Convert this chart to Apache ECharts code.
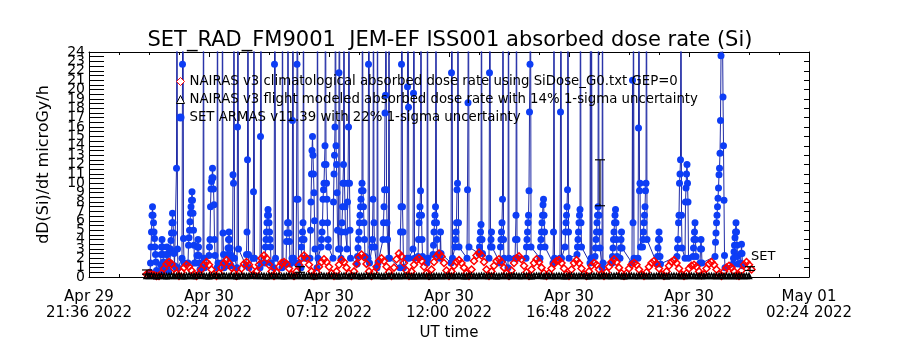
<!DOCTYPE html>
<html><head><meta charset="utf-8">
<script src="https://cdn.jsdelivr.net/npm/echarts@6/dist/echarts.min.js"></script>
<style>html,body{margin:0;padding:0;background:#fff}#c{width:900px;height:350px}</style>
</head><body><div id="c"></div>
<script>
const titleText = 'SET_RAD_FM9001  JEM-EF ISS001 absorbed dose rate (Si)';
const yAxisTitle = 'dD(Si)/dt microGy/h';
const xAxisTitle = 'UT time';
const xTickLabels = ['Apr 29\n21:36 2022','Apr 30\n02:24 2022','Apr 30\n07:12 2022','Apr 30\n12:00 2022','Apr 30\n16:48 2022','Apr 30\n21:36 2022','May 01\n02:24 2022'];
const seriesNames = [
  'NAIRAS v3 climatological absorbed dose rate using SiDose_G0.txt GEP=0',
  'NAIRAS v3 flight modeled absorbed dose rate with 14% 1-sigma uncertainty',
  'SET ARMAS v11.39 with 22% 1-sigma uncertainty'
];
const endLabel = 'SET';
// all times: hours since 2022-04-29 21:36 UT
const climStart = 2.3, climStep = 0.1;
const climDose = [
 0.3,0.4,0.3,0.2,0.1,0.1,
 0.4,0.9,1.4,1.6,1.4,0.9,0.4,0.1,
 0.5,1.0,1.3,1.1,0.7,0.3,0.1,
 0.3,0.8,1.3,1.6,1.3,0.8,0.3,0.1,
 0.4,1.0,1.5,1.8,1.5,1.0,0.4,0.1,
 0.4,0.9,1.4,1.6,1.3,0.8,0.2,
 0.6,1.3,2.0,2.3,2.0,1.3,0.6,0.1,
 0.5,1.1,1.5,1.6,1.4,0.9,0.3,0.1,
 0.6,1.3,2.0,2.3,2.0,1.3,0.6,0.1,
 0.5,1.1,1.6,1.9,1.6,1.1,0.4,0.1,
 0.6,1.3,1.8,1.6,1.0,0.4,0.1,
 0.6,1.4,2.1,2.4,2.1,1.4,0.6,0.1,
 0.5,1.1,1.7,2.0,1.7,1.1,0.5,0.1,
 1.0,1.9,2.5,2.2,1.5,0.7,0.1,
 0.6,1.3,1.8,2.0,1.7,1.1,0.4,0.1,
 0.8,1.6,2.2,2.5,2.2,1.5,0.7,0.1,
 0.6,1.2,1.6,1.8,1.5,1.0,0.4,0.1,
 0.8,1.7,2.3,2.6,2.3,1.6,0.8,0.1,
 0.6,1.2,1.7,1.9,1.6,1.0,0.4,0.1,
 0.7,1.5,2.0,2.2,1.9,1.2,0.5,0.1,
 0.8,1.5,1.9,1.6,1.0,0.4,0.1,
 0.4,0.9,1.4,1.7,1.8,1.5,0.9,0.3,0.1,
 0.8,1.5,1.8,1.5,0.9,0.3,0.1,
 0.6,1.2,1.5,1.3,0.8,0.3,0.1,
 0.5,1.1,1.6,1.9,1.6,1.0,0.4,0.1,
 0.4,0.9,1.3,1.5,1.3,0.8,0.3,0.1,
 0.5,1.1,1.5,1.7,1.4,0.9,0.3,0.1,
 0.6,1.2,1.6,1.8,1.5,0.9,0.3,0.1,
 0.4,0.9,1.2,1.3,1.1,0.6,0.2,
 0.3,0.9,1.4,1.6,1.3,0.8,0.3,0.1,
 0.6,1.0,1.2,1.0,0.6,0.2,0.1,
 0.7,1.3,1.6,1.3,0.8
];
const flightStart = 2.3, flightStep = 0.1;
const flightDose = [
 0.10,0.12,0.15,0.12,0.08,0.10,0.14,0.12,0.09,0.11,
 0.13,0.10,0.12,0.15,0.11,0.09,0.12,0.14,0.10,0.12,
 0.11,0.13,0.15,0.12,0.10,0.09,0.12,0.14,0.13,0.10,
 0.12,0.15,0.11,0.10,0.13,0.12,0.09,0.11,0.14,0.12,
 0.10,0.12,0.15,0.13,0.10,0.11,0.14,0.12,0.09,0.12,
 0.13,0.11,0.12,0.15,0.10,0.09,0.12,0.13,0.11,0.10,
 0.12,0.14,0.12,0.10,0.11,0.13,0.12,0.09,0.10,0.12,
 0.14,0.12,0.10,0.11,0.13,0.12,0.10,0.09,0.12,0.13,
 0.11,0.10,0.12,0.14,0.12,0.10,0.09,0.11,0.13,0.12,
 0.10,0.12,0.13,0.11,0.10,0.09,0.12,0.13,0.11,0.10,
 0.12,0.11,0.10,0.12,0.13,0.11,0.10,0.09,0.11,0.12,
 0.10,0.11,0.12,0.10,0.09,0.11,0.12,0.10,0.11,0.10,
 0.12,0.14,0.11,0.10,0.12,0.13,0.10,0.09,0.11,0.12,
 0.13,0.11,0.10,0.12,0.14,0.12,0.10,0.11,0.13,0.12,
 0.09,0.10,0.12,0.13,0.11,0.10,0.12,0.14,0.12,0.10,
 0.11,0.12,0.13,0.10,0.09,0.12,0.14,0.13,0.11,0.10,
 0.12,0.13,0.11,0.10,0.12,0.14,0.12,0.09,0.10,0.12,
 0.13,0.12,0.10,0.11,0.14,0.12,0.10,0.09,0.12,0.13,
 0.11,0.10,0.12,0.13,0.12,0.10,0.11,0.12,0.14,0.12,
 0.10,0.09,0.11,0.12,0.13,0.11,0.10,0.12,0.13,0.11,
 0.10,0.12,0.11,0.10,0.12,0.13,0.12,0.10,0.09,0.11,
 0.12,0.13,0.11,0.10,0.12,0.11,0.10,0.12,0.13,0.11,
 0.10,0.12,0.11,0.10,0.12,0.13,0.12,0.10,0.11,0.12,
 0.10,0.11,0.12,0.10,0.11,0.12,0.10,0.11,0.12,0.10,
 0.11,0.12
];
const flightBarTime = [2.32, 8.44, 20.44, 26.44];
const flightBarLow  = [0.3, 0.5, 7.6, 0.7];
const flightBarHigh = [0.75, 1.1, 12.5, 1.1];
const armasCadence = 0.02;
const armasSegStart = [2.44,2.84,3.08,3.24,3.48,3.72,3.96,4.30,4.56,4.80,5.12,5.32,5.52,5.74,5.92,6.28,6.56,6.84,7.04,7.40,
 7.72,7.88,8.12,8.28,8.48,8.84,9.12,9.28,9.76,9.98,10.08,10.32,10.72,11.16,11.32,11.52,11.76,11.98,12.44,12.72,
 12.96,13.16,13.52,13.76,14.04,14.48,14.64,15.12,15.60,16.00,16.44,16.76,17.04,17.48,18.04,18.56,18.84,19.04,19.52,20.04,
 20.24,20.52,20.92,21.24,21.72,21.96,22.14,22.72,23.52,23.84,24.16,24.44,25.04,25.34,25.76,26.06];
const armasSegDose = [
 [0.5,1.5,3.2,4.8,6.6,7.5,6.6,5.8,4.8,4.1,3.2,2.4,1.6,0.7],
 [0.6,1.3,2.4,3.2,4.0,3.2,2.4,1.6,0.8],
 [1.2,2.4,3.2,2.4,1.3,0.6],
 [1.5,3.0,3.9,4.7,5.8,6.8,5.8,4.7,2.5,1.2],
 [1.0,11.6,40,3.0,1.0],
 [2.0,22.7,40,4.1,1.5],
 [1.5,3.4,4.2,5.0,5.9,6.8,7.5,8.2,9.1,8.2,6.8,5.0,3.4,1.5],
 [1.5,2.3,3.2,4.0,3.2,2.3,1.5,0.8],
 [1.0,40,2.0,1.0],
 [2.3,3.2,4.0,7.5,9.4,10.2,10.6,11.6,10.6,9.4,7.7,4.0,2.3],
 [1.0,40,1.5],
 [1.5,40,4.7,2.4,1.0],
 [1.2,2.4,3.1,4.0,4.8,4.0,3.1,2.4,1.2],
 [2.0,10.9,10.0,40,2.0],
 [1.0,16.0,40,3.0],
 [1.2,2.4,4.8,12.5,40,2.4,1.0],
 [2.0,9.1,40,2.0],
 [1.0,15.0,40,1.5],
 [1.5,3.2,4.0,4.8,5.8,6.6,7.2,6.6,5.8,4.8,4.0,3.2,1.5],
 [1.0,22.7,40,2.0],
 [1.0,40,1.5],
 [1.4,3.8,4.7,5.8,40,5.8,4.7,3.8,1.4],
 [2.0,16.7,40,2.0],
 [1.5,8.3,22.7,40,8.3,1.5],
 [1.0,3.2,4.0,4.8,5.8,40,4.0,2.0],
 [2.0,5.0,8.0,11.0,13.5,15.0,13.0,11.0,9.0,6.0,3.0],
 [1.0,40,2.0],
 [3.2,4.0,4.8,5.8,8.3,9.3,10.0,12.0,14.0,40,12.0,10.0,8.3,5.8,4.0,3.2],
 [2.0,8.0,11.0,13.0,16.0,40,14.0,12.0,9.0,5.0],
 [3.0,21.8,40,3.0],
 [2.0,4.8,5.8,7.5,10.0,12.0,40,10.0,7.5,4.8],
 [3.0,8.0,10.0,16.0,40,10.0,5.0,2.0],
 [1.4,2.2,3.1,4.0,4.8,5.8,6.6,7.5,8.3,9.2,10.0,40,9.2,7.5,5.8,4.0,2.2],
 [2.0,22.7,40,1.5],
 [3.2,4.0,8.3,40,5.8,3.2],
 [1.0,40,1.5],
 [4.0,5.8,7.5,9.3,17.5,19.4,40,9.3,5.8,4.0],
 [2.0,40,2.0],
 [1.0,4.8,7.5,22.7,40,7.5,4.8,1.0],
 [2.0,20.3,40,18.1,2.0],
 [3.0,19.6,40,2.0],
 [2.2,4.0,5.8,6.6,7.5,9.2,40,6.6,4.0,2.2],
 [1.5,40,2.0],
 [2.4,3.4,4.8,5.8,6.6,7.5,40,5.8,4.0,2.4],
 [2.0,4.8,2.5],
 [1.5,21.8,40,2.0],
 [3.2,4.0,4.8,5.8,9.3,10.0,40,5.8,3.2],
 [2.0,9.3,18.6,40,3.2],
 [2.5,3.2,4.0,4.8,5.6,40,4.0,2.5],
 [2.0,21.8,40,3.2,4.0,4.8,3.2],
 [1.5,3.2,4.0,4.8,5.8,8.3,40,4.0,2.0],
 [1.0,40,2.0],
 [2.0,4.0,6.6,40,4.0,2.0],
 [2.0,3.2,4.0,4.8,5.8,6.6,9.2,17.6,22.7,40,3.2],
 [2.0,3.2,4.0,4.8,5.8,6.6,7.7,8.3,6.6,4.8,3.2],
 [1.5,4.8,40,2.0],
 [2.0,17.6,40,2.0],
 [3.2,4.8,5.8,6.6,7.5,9.3,40,4.8,2.0],
 [2.4,3.2,4.0,4.8,5.8,6.6,7.2,40,5.8,3.2],
 [1.5,40,2.0,40,2.0],
 [2.2,3.1,4.0,4.8,5.8,6.6,7.5,40,6.6,4.8,3.1],
 [1.0,40,1.5],
 [1.5,2.2,3.1,4.0,4.8,5.8,6.6,7.2,5.8,4.0,2.2],
 [2.0,3.1,4.0,4.8,3.1],
 [1.5,21.0,5.8,40,2.0],
 [2.0,15.9,40,9.2,10.0,3.2],
 [3.2,4.0,4.8,5.8,6.6,7.5,9.2,10.0,40,4.0],
 [1.4,2.2,3.1,4.0,4.8,4.0,2.2,1.4],
 [2.2,3.1,4.0,5.8,6.6,10.0,11.0,12.5,40,6.6,3.1],
 [2.0,8.0,9.5,11.0,12.0,10.0,8.0,2.0],
 [2.2,3.1,4.0,4.8,5.8,4.0,2.2],
 [1.5,3.0,4.0,3.0,1.5],
 [2.2,3.7,4.7,5.8,6.6,7.5,8.4,9.5,10.9,11.6,13.2,16.7,23.6,40],
 [40,19.2,14.0,8.2,2.3,1.0],
 [1.4,2.0,2.7,3.4,4.2,4.8,5.8,4.8,3.4,2.2,1.4],
 [1.5,2.5,3.5,2.5,1.2]
];
const yEndLabels = [0, 24];

const FONT = 'DejaVu Sans';
const toMin = h => h * 60;
const climData = climDose.map((v, i) => [toMin(climStart + i * climStep), v]);
const flightData = flightDose.map((v, i) => [toMin(flightStart + i * flightStep), v]);
const barData = flightBarTime.map((t, i) => [toMin(t), flightBarLow[i], flightBarHigh[i]]);
const armasData = [];
armasSegStart.forEach((s, i) => armasSegDose[i].forEach((v, k) => armasData.push([toMin(s + k * armasCadence), v])));

const chart = echarts.init(document.getElementById('c'), null, {renderer: 'canvas'});
const axisCommon = {
  type: 'value', min: 0, max: 1728, interval: 288,
  axisLine: {show: true, onZero: false, lineStyle: {color: '#000', width: 1}},
  axisTick: {show: true, inside: true, length: 5, lineStyle: {color: '#000'}},
  minorTick: {show: true, splitNumber: 4, length: 3, lineStyle: {color: '#000'}},
  splitLine: {show: false}, minorSplitLine: {show: false}
};
const yLabelStyle = {fontFamily: FONT, fontSize: 14, color: '#000', margin: 4};
chart.setOption({
  animation: false,
  backgroundColor: '#fff',
  title: {text: titleText, left: 'center', top: 25, textStyle: {fontFamily: FONT, fontSize: 21, fontWeight: 'normal', color: '#000'}},
  grid: {left: 89, right: 91, top: 52, bottom: 73},
  legend: {
    orient: 'vertical', left: 176, top: 75, itemGap: 5, itemWidth: 8, itemHeight: 8, padding: 0,
    textStyle: {fontFamily: FONT, fontSize: 13.3, color: '#000'},
    data: [
      {name: seriesNames[0], icon: 'diamond', itemStyle: {color: '#fff', borderColor: '#ff0000', borderWidth: 1}},
      {name: seriesNames[1], icon: 'triangle', itemStyle: {color: '#fff', borderColor: '#000', borderWidth: 1}},
      {name: seriesNames[2], icon: 'circle', itemStyle: {color: '#0d3df5', borderWidth: 0}}
    ]
  },
  xAxis: [
    Object.assign({}, axisCommon, {
      position: 'bottom',
      name: xAxisTitle, nameLocation: 'middle', nameGap: 46,
      nameTextStyle: {fontFamily: FONT, fontSize: 15, color: '#000'},
      axisLabel: {fontFamily: FONT, fontSize: 15, color: '#000', margin: 12, lineHeight: 16,
        showMinLabel: true, showMaxLabel: true, hideOverlap: false,
        formatter: v => xTickLabels[Math.round(v / 288)] || ''}
    }),
    Object.assign({}, axisCommon, {position: 'top', axisLabel: {show: false}})
  ],
  yAxis: [
    {type: 'value', min: 0, max: 24, interval: 1, position: 'left',
     name: yAxisTitle, nameLocation: 'middle', nameGap: 37,
     nameTextStyle: {fontFamily: FONT, fontSize: 16, color: '#000'},
     axisLine: {show: true, onZero: false, lineStyle: {color: '#000'}},
     axisTick: {show: true, inside: true, length: 15, lineStyle: {color: '#000'}},
     minorTick: {show: true, splitNumber: 2, length: 15, lineStyle: {color: '#000'}},
     axisLabel: yLabelStyle,
     splitLine: {show: false}},
    {type: 'value', min: 0, max: 24, interval: 1, position: 'right',
     axisLine: {show: true, onZero: false, lineStyle: {color: '#000'}},
     axisTick: {show: true, inside: true, length: 5, lineStyle: {color: '#000'}},
     axisLabel: {show: false}, splitLine: {show: false}},
    {type: 'value', min: 0, max: 24, interval: 24, position: 'left', offset: 0,
     axisLine: {show: false}, axisTick: {show: false}, splitLine: {show: false},
     axisLabel: Object.assign({}, yLabelStyle, {showMinLabel: true, showMaxLabel: true,
       formatter: v => (yEndLabels.indexOf(v) >= 0 ? String(v) : '')})}
  ],
  series: [
    {name: seriesNames[2], type: 'line', data: armasData, symbol: 'circle', symbolSize: 7, showAllSymbol: true,
     clip: true, lineStyle: {color: '#1f2aa5', width: 1}, itemStyle: {color: '#0d3df5'}, z: 2},
    {name: seriesNames[0], type: 'scatter', data: climData, symbol: 'diamond', symbolSize: 7,
     itemStyle: {color: 'none', borderColor: '#ff0000', borderWidth: 1.5, opacity: 1}, z: 3},
    {name: seriesNames[1], type: 'scatter', data: flightData, symbol: 'triangle', symbolSize: 5,
     itemStyle: {color: 'none', borderColor: '#000', borderWidth: 1.5, opacity: 1}, z: 4},
    {type: 'custom', data: barData, z: 5, silent: true,
     renderItem: (params, api) => {
       const lo = api.coord([api.value(0), api.value(1)]);
       const hi = api.coord([api.value(0), api.value(2)]);
       const st = {stroke: '#000', lineWidth: 1.2};
       const ch = [
         {type: 'line', shape: {x1: lo[0], y1: lo[1], x2: hi[0], y2: hi[1]}, style: st},
         {type: 'line', shape: {x1: lo[0] - 5, y1: lo[1], x2: lo[0] + 5, y2: lo[1]}, style: st},
         {type: 'line', shape: {x1: hi[0] - 5, y1: hi[1], x2: hi[0] + 5, y2: hi[1]}, style: st}
       ];
       if (params.dataIndex === flightBarTime.length - 1) {
         ch.push({type: 'text', style: {text: endLabel, x: hi[0] + 1, y: hi[1] - 10, verticalAlign: 'middle',
           fontFamily: FONT, fontSize: 13, fill: '#000'}});
       }
       return {type: 'group', children: ch};
     }}
  ]
});
</script></body></html>
